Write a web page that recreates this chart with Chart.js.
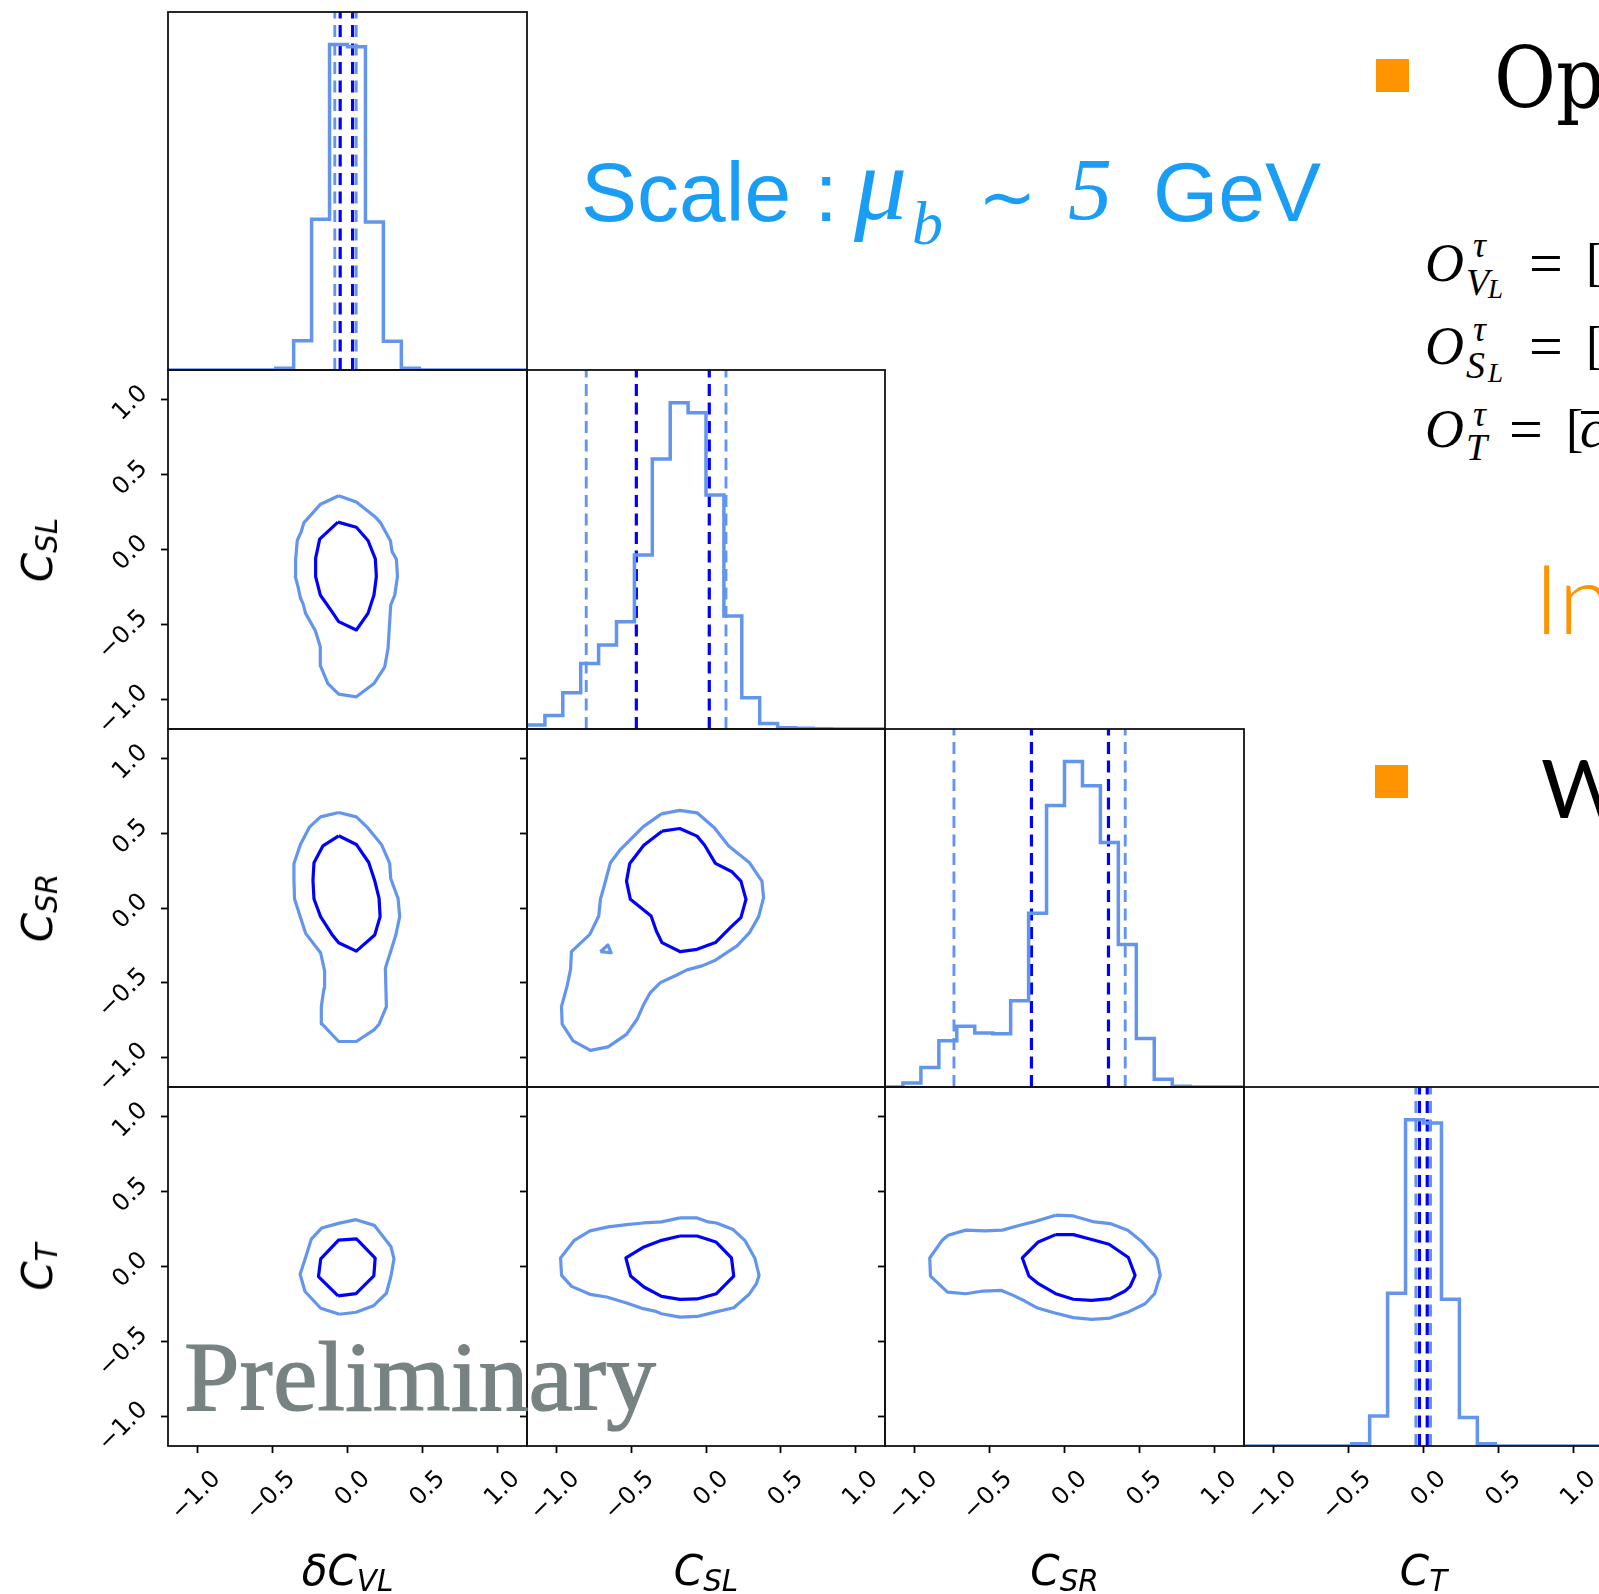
<!DOCTYPE html>
<html><head><meta charset="utf-8">
<script src="https://cdn.jsdelivr.net/npm/chart.js@4.4.1/dist/chart.umd.min.js"></script>
<style>
html,body{margin:0;padding:0;background:#fff;}
body{width:1599px;height:1594px;overflow:hidden;position:relative;}
canvas{position:absolute;}
.t{position:absolute;white-space:nowrap;line-height:1;z-index:5;}
.sb{font-size:0.7em;position:relative;top:0.18em;}
</style></head><body>
<script>
// ---------------- DATA ----------------
const tickValues = [-1.0, -0.5, 0.0, 0.5, 1.0];
const axisMin = -1.2, axisMax = 1.2;
const binStart = -1.2, binWidth = 0.12;   // 20 histogram bins

const histVL = [0,0,0,0,0,0,0.005,0.090,0.463,1.000,0.993,0.455,0.088,0.005,0,0,0,0,0,0];
const histSL = [0.012,0.041,0.111,0.201,0.257,0.329,0.533,0.827,1.000,0.969,0.717,0.346,0.096,0.017,0.004,0.002,0.001,0,0,0];
const histSR = [0,0.012,0.060,0.142,0.187,0.166,0.164,0.265,0.534,0.865,1.000,0.926,0.751,0.438,0.149,0.024,0.002,0,0,0];
const histT  = [0,0,0,0,0,0,0.007,0.092,0.468,1.000,0.990,0.450,0.087,0.007,0,0,0,0,0,0];

const qVL_outer = [-0.085, 0.058], qVL_inner = [-0.049, 0.034];
const qSL_outer = [-0.803, 0.134], qSL_inner = [-0.467, 0.022];
const qSR_outer = [-0.739, 0.406], qSR_inner = [-0.221, 0.294];
const qT_outer  = [-0.051, 0.047], qT_inner  = [-0.027, 0.025];

const cVLSL_out = [[-0.059,0.359],[0.059,0.317],[0.182,0.221],[0.220,0.180],[0.287,0.058],[0.298,-0.014],[0.327,-0.065],[0.334,-0.181],[0.316,-0.304],[0.289,-0.371],[0.271,-0.662],[0.249,-0.784],[0.177,-0.896],[0.059,-0.985],[-0.059,-0.967],[-0.131,-0.896],[-0.180,-0.779],[-0.182,-0.650],[-0.215,-0.543],[-0.280,-0.427],[-0.298,-0.360],[-0.314,-0.326],[-0.331,-0.248],[-0.349,-0.181],[-0.347,-0.070],[-0.336,0.060],[-0.309,0.120],[-0.291,0.180],[-0.180,0.303]];
const cVLSL_in = [[-0.064,0.183],[0.059,0.149],[0.137,0.060],[0.186,-0.063],[0.193,-0.181],[0.177,-0.304],[0.137,-0.427],[0.059,-0.538],[-0.059,-0.482],[-0.104,-0.415],[-0.182,-0.304],[-0.213,-0.181],[-0.213,-0.058],[-0.186,0.069]];

const cVLSR_out = [[-0.059,0.640],[0.059,0.611],[0.133,0.540],[0.227,0.426],[0.282,0.299],[0.289,0.198],[0.338,0.064],[0.349,-0.058],[0.323,-0.181],[0.309,-0.226],[0.253,-0.404],[0.260,-0.661],[0.211,-0.779],[0.177,-0.817],[0.059,-0.895],[-0.059,-0.895],[-0.171,-0.777],[-0.175,-0.661],[-0.157,-0.538],[-0.153,-0.422],[-0.180,-0.300],[-0.280,-0.170],[-0.298,-0.114],[-0.354,0.060],[-0.358,0.187],[-0.358,0.299],[-0.314,0.428],[-0.253,0.544],[-0.180,0.611]];
const cVLSR_in = [[-0.059,0.484],[0.059,0.426],[0.142,0.305],[0.182,0.183],[0.211,0.064],[0.218,-0.058],[0.182,-0.181],[0.059,-0.289],[-0.059,-0.233],[-0.104,-0.177],[-0.180,-0.058],[-0.224,0.060],[-0.231,0.187],[-0.224,0.303],[-0.164,0.417]];

const cSLSR_out = [[-0.299,0.631],[-0.176,0.654],[-0.060,0.638],[0.056,0.538],[0.152,0.415],[0.292,0.303],[0.375,0.180],[0.386,0.069],[0.353,-0.058],[0.292,-0.165],[0.208,-0.254],[0.063,-0.350],[-0.027,-0.388],[-0.127,-0.415],[-0.199,-0.451],[-0.306,-0.500],[-0.373,-0.567],[-0.417,-0.645],[-0.462,-0.746],[-0.533,-0.847],[-0.656,-0.931],[-0.775,-0.954],[-0.891,-0.891],[-0.964,-0.779],[-0.969,-0.661],[-0.931,-0.522],[-0.908,-0.411],[-0.902,-0.293],[-0.779,-0.177],[-0.719,-0.054],[-0.708,0.058],[-0.681,0.154],[-0.641,0.303],[-0.574,0.392],[-0.507,0.459],[-0.422,0.544]];
const cSLSR_in = [[-0.295,0.515],[-0.176,0.533],[-0.060,0.482],[-0.009,0.421],[0.063,0.299],[0.174,0.243],[0.234,0.180],[0.268,0.058],[0.234,-0.065],[0.163,-0.132],[0.063,-0.232],[-0.060,-0.277],[-0.172,-0.293],[-0.295,-0.232],[-0.333,-0.154],[-0.368,-0.054],[-0.507,0.058],[-0.533,0.180],[-0.511,0.299],[-0.417,0.421]];
const cSLSR_island = [[-0.708,-0.293],[-0.658,-0.248],[-0.636,-0.300]];

const cVLT_out = [[-0.054,-0.319],[0.057,-0.306],[0.173,-0.263],[0.260,-0.179],[0.290,-0.067],[0.311,0.051],[0.290,0.134],[0.179,0.275],[0.057,0.313],[-0.054,0.290],[-0.173,0.257],[-0.242,0.183],[-0.278,0.067],[-0.317,-0.051],[-0.284,-0.167],[-0.179,-0.279]];
const cVLT_in = [[-0.063,-0.196],[0.057,-0.181],[0.176,-0.063],[0.185,0.056],[0.060,0.185],[-0.060,0.176],[-0.179,0.051],[-0.194,-0.067]];

const cSLT_out = [[-0.175,0.325],[-0.059,0.325],[0.015,0.298],[0.070,0.291],[0.182,0.247],[0.260,0.175],[0.327,0.057],[0.356,-0.059],[0.338,-0.115],[0.289,-0.186],[0.186,-0.276],[0.059,-0.305],[-0.059,-0.334],[-0.175,-0.338],[-0.298,-0.316],[-0.343,-0.298],[-0.421,-0.282],[-0.532,-0.244],[-0.666,-0.204],[-0.778,-0.186],[-0.901,-0.133],[-0.968,-0.059],[-0.975,0.057],[-0.883,0.175],[-0.778,0.238],[-0.655,0.265],[-0.532,0.280],[-0.421,0.291],[-0.298,0.298]];
const cSLT_in = [[-0.175,0.204],[-0.059,0.204],[0.066,0.164],[0.171,0.057],[0.186,-0.064],[0.070,-0.182],[-0.059,-0.217],[-0.175,-0.220],[-0.298,-0.200],[-0.416,-0.137],[-0.505,-0.064],[-0.537,0.057],[-0.416,0.131],[-0.298,0.175]];

const cSRT_out = [[-0.059,0.343],[0.059,0.338],[0.200,0.298],[0.305,0.287],[0.423,0.242],[0.512,0.171],[0.602,0.075],[0.617,0.053],[0.640,-0.059],[0.602,-0.182],[0.539,-0.249],[0.423,-0.305],[0.305,-0.345],[0.182,-0.354],[0.059,-0.342],[-0.064,-0.311],[-0.180,-0.278],[-0.265,-0.231],[-0.343,-0.193],[-0.421,-0.160],[-0.544,-0.164],[-0.660,-0.182],[-0.782,-0.171],[-0.896,-0.064],[-0.901,0.057],[-0.818,0.175],[-0.778,0.209],[-0.660,0.243],[-0.532,0.238],[-0.416,0.243],[-0.298,0.276],[-0.209,0.298]];
const cSRT_in = [[-0.059,0.213],[0.059,0.213],[0.182,0.180],[0.298,0.149],[0.427,0.060],[0.472,-0.059],[0.439,-0.133],[0.405,-0.164],[0.305,-0.215],[0.182,-0.226],[0.059,-0.219],[-0.059,-0.182],[-0.175,-0.115],[-0.238,-0.064],[-0.282,0.057],[-0.175,0.164]];

// ---------------- STYLE / LAYOUT ----------------
const LIGHT = '#6495ED', DARK = '#0000FF';
const colEdges = [168, 527, 885, 1244, 1603];
const rowEdges = [12, 370, 729, 1087, 1446];
const TICK_FONT = 24;

Chart.defaults.font.family = 'DejaVu Sans';
Chart.defaults.animation = false;

const fmt = v => (v < 0 ? '\u2212' : '') + Math.abs(v).toFixed(1);

const framePlugin = {
  id: 'frame',
  afterDatasetsDraw(chart) {
    const {ctx, chartArea: a} = chart;
    ctx.save();
    ctx.strokeStyle = '#111';
    ctx.lineWidth = 1.8;
    ctx.strokeRect(a.left, a.top, a.right - a.left, a.bottom - a.top);
    ctx.restore();
  }
};

function zeroPad(s) { s.paddingTop = 0; s.paddingBottom = 0; s.paddingLeft = 0; s.paddingRight = 0; }

function poly(arr) {
  const pts = arr.map(p => ({x: p[0], y: p[1]}));
  pts.push({x: arr[0][0], y: arr[0][1]});
  return pts;
}
function histPoints(h) {
  const pts = h.map((v, k) => ({x: binStart + k * binWidth, y: v}));
  pts.push({x: binStart + h.length * binWidth, y: h[h.length - 1]});
  return pts;
}
function lineDS(data, color, width, extra) {
  return Object.assign({data, showLine: true, borderColor: color, borderWidth: width,
    pointRadius: 0, fill: false, tension: 0, borderJoinStyle: 'round'}, extra || {});
}

function makePanel(p) {
  const L = p.col === 0 ? 168 : 24;
  const B = p.row === 3 ? 148 : 24;
  const T = 12, R = 12;
  const pw = colEdges[p.col + 1] - colEdges[p.col];
  const ph = rowEdges[p.row + 1] - rowEdges[p.row];
  const cv = document.createElement('canvas');
  const W = L + pw + R, H = T + ph + B;
  cv.width = W; cv.height = H;
  cv.style.width = W + 'px'; cv.style.height = H + 'px';
  cv.style.left = (colEdges[p.col] - L) + 'px';
  cv.style.top = (rowEdges[p.row] - T) + 'px';
  document.body.appendChild(cv);

  const isHist = !!p.hist;
  const datasets = [];
  if (isHist) {
    datasets.push(lineDS(histPoints(p.hist), LIGHT, 3.5, {stepped: true, borderJoinStyle: 'miter'}));
    p.qo.forEach(q => datasets.push(lineDS([{x: q, y: 0}, {x: q, y: 1.1}], LIGHT, 2.9, {borderDash: [12, 6.5]})));
    p.qi.forEach(q => datasets.push(lineDS([{x: q, y: 0}, {x: q, y: 1.1}], DARK, 3.2, {borderDash: [12, 6.5]})));
  } else {
    datasets.push(lineDS(poly(p.outer), LIGHT, 3.2));
    (p.islands || []).forEach(c => datasets.push(lineDS(poly(c), LIGHT, 3.2)));
    datasets.push(lineDS(poly(p.inner), DARK, 3.2));
  }

  const xTicksOn = p.row === 3;
  const yTicksMark = !isHist;
  const yLabels = !isHist && p.col === 0;

  new Chart(cv, {
    type: 'scatter',
    data: {datasets},
    plugins: [framePlugin],
    options: {
      responsive: false,
      animation: false,
      events: [],
      layout: {autoPadding: false, padding: {top: T, right: R, left: 0, bottom: 0}},
      plugins: {legend: {display: false}, tooltip: {enabled: false}},
      scales: {
        x: {
          type: 'linear', position: 'bottom', min: axisMin, max: axisMax,
          afterBuildTicks: s => { s.ticks = tickValues.map(v => ({value: v})); },
          afterFit: s => { s.height = B; zeroPad(s); },
          border: {display: false},
          grid: {display: xTicksOn, drawOnChartArea: false, drawTicks: xTicksOn, tickLength: 7, tickWidth: 1.8, tickColor: '#000'},
          ticks: {display: xTicksOn, autoSkip: false, minRotation: 45, maxRotation: 45, padding: 12, labelOffset: 19,
                  color: '#000', font: {family: 'DejaVu Sans', size: TICK_FONT}, callback: fmt}
        },
        y: isHist ? {
          type: 'linear', position: 'left', min: 0, max: 1.1,
          afterFit: s => { s.width = L; zeroPad(s); },
          border: {display: false}, grid: {display: false}, ticks: {display: false}
        } : {
          type: 'linear', position: 'left', min: axisMin, max: axisMax,
          afterBuildTicks: s => { s.ticks = tickValues.map(v => ({value: v})); },
          afterFit: s => { s.width = L; zeroPad(s); },
          border: {display: false},
          grid: {display: yTicksMark, drawOnChartArea: false, drawTicks: true, tickLength: 7, tickWidth: 1.8, tickColor: '#000'},
          ticks: {display: yLabels, autoSkip: false, minRotation: 45, maxRotation: 45, padding: 17, labelOffset: -10,
                  color: '#000', font: {family: 'DejaVu Sans', size: TICK_FONT}, callback: fmt}
        }
      }
    }
  });
}

const panels = [
  {row: 0, col: 0, hist: histVL, qo: qVL_outer, qi: qVL_inner},
  {row: 1, col: 0, outer: cVLSL_out, inner: cVLSL_in},
  {row: 1, col: 1, hist: histSL, qo: qSL_outer, qi: qSL_inner},
  {row: 2, col: 0, outer: cVLSR_out, inner: cVLSR_in},
  {row: 2, col: 1, outer: cSLSR_out, inner: cSLSR_in, islands: [cSLSR_island]},
  {row: 2, col: 2, hist: histSR, qo: qSR_outer, qi: qSR_inner},
  {row: 3, col: 0, outer: cVLT_out, inner: cVLT_in},
  {row: 3, col: 1, outer: cSLT_out, inner: cSLT_in},
  {row: 3, col: 2, outer: cSRT_out, inner: cSRT_in},
  {row: 3, col: 3, hist: histT, qo: qT_outer, qi: qT_inner}
];
panels.forEach(makePanel);

// ---------------- TEXT ----------------
function addText(html, x, base, size, family, css) {
  const d = document.createElement('div');
  d.className = 't';
  d.innerHTML = html;
  d.style.left = x + 'px';
  d.style.top = (base - 0.85 * size) + 'px';
  d.style.fontSize = size + 'px';
  d.style.fontFamily = family;
  Object.assign(d.style, css || {});
  document.body.appendChild(d);
  return d;
}

// axis labels
const xLabels = ['\u03B4C<span class="sb">VL</span>', 'C<span class="sb">SL</span>', 'C<span class="sb">SR</span>', 'C<span class="sb">T</span>'];
const yLabelsTxt = ['C<span class="sb">SL</span>', 'C<span class="sb">SR</span>', 'C<span class="sb">T</span>'];
xLabels.forEach((h, i) => {
  const cx = (colEdges[i] + colEdges[i + 1]) / 2;
  addText(h, cx, 1586, 42, 'DejaVu Sans', {fontStyle: 'italic', transform: 'translateX(-50%)', color: '#000'});
});
yLabelsTxt.forEach((h, i) => {
  const cy = (rowEdges[i + 1] + rowEdges[i + 2]) / 2;
  const d = document.createElement('div');
  d.className = 't';
  d.innerHTML = h;
  d.style.fontSize = '42px';
  d.style.fontFamily = 'DejaVu Sans';
  d.style.fontStyle = 'italic';
  d.style.left = '38px';
  d.style.top = cy + 'px';
  d.style.transform = 'translate(-50%,-50%) rotate(-90deg)';
  document.body.appendChild(d);
});

// title
const BLUE = '#1a9ef5';
addText('Scale :', 581, 221, 84, 'Liberation Sans', {color: BLUE});
addText('\u03BC', 854, 221, 106, 'Liberation Serif', {color: BLUE, fontStyle: 'italic'});
addText('b', 912, 245, 62, 'Liberation Serif', {color: BLUE, fontStyle: 'italic'});
addText('\u223C', 978, 221, 70, 'DejaVu Sans', {color: BLUE});
addText('5', 1068, 221, 88, 'Liberation Serif', {color: BLUE, fontStyle: 'italic'});
addText('GeV', 1153, 221, 84, 'Liberation Sans', {color: BLUE});

// right-side slide text (cut at the edge)
const ORANGE = '#FF9300';
function box(x, y, w, h, c) {
  const s = document.createElement('div');
  s.style.cssText = `position:absolute;left:${x}px;top:${y}px;width:${w}px;height:${h}px;background:${c};z-index:5;`;
  document.body.appendChild(s);
}
box(1376, 59, 33, 33, ORANGE);
box(1375, 765, 33, 33, ORANGE);
addText('Op', 1494, 107, 84, 'DejaVu Serif', {color: '#000', fontStretch: 'condensed'});
const SER = 'Liberation Serif';
// formula 1
addText('O', 1425, 282, 54, SER, {fontStyle: 'italic'});
addText('\u03C4', 1473, 258, 36, SER, {fontStyle: 'italic'});
addText('V', 1466, 295, 38, SER, {fontStyle: 'italic'});
addText('L', 1488, 299, 27, SER, {fontStyle: 'italic'});
addText('=', 1529, 284, 60, SER, {});
addText('[', 1586, 281, 52, SER, {});
// formula 2
addText('O', 1425, 365, 54, SER, {fontStyle: 'italic'});
addText('\u03C4', 1473, 342, 36, SER, {fontStyle: 'italic'});
addText('S', 1466, 378, 38, SER, {fontStyle: 'italic'});
addText('L', 1488, 383, 27, SER, {fontStyle: 'italic'});
addText('=', 1529, 367, 60, SER, {});
addText('[', 1586, 364, 52, SER, {});
// formula 3
addText('O', 1425, 448, 54, SER, {fontStyle: 'italic'});
addText('\u03C4', 1473, 427, 36, SER, {fontStyle: 'italic'});
addText('T', 1466, 460, 38, SER, {fontStyle: 'italic'});
addText('=', 1509, 450, 60, SER, {});
addText('[', 1566, 447, 52, SER, {});
addText('c', 1580, 448, 54, SER, {fontStyle: 'italic'});
box(1581, 411, 18, 3, '#000');

addText('In', 1534, 630, 97, 'Lato', {color: ORANGE, fontWeight: '300'});
addText('W', 1541, 815, 82, 'Lato', {color: '#000'});

addText('Preliminary', 184, 1412, 100, 'Liberation Serif', {color: '#778383', WebkitTextStroke: '1.2px #778383'});
</script>
</body></html>
